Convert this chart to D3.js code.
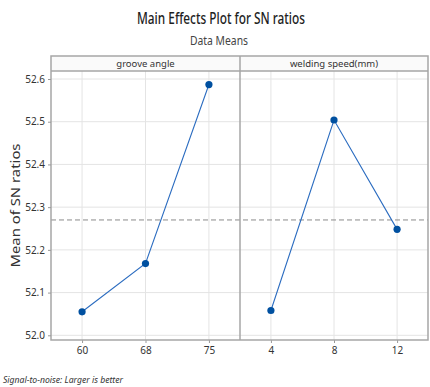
<!DOCTYPE html>
<html>
<head>
<meta charset="utf-8">
<script src="https://cdn.jsdelivr.net/npm/d3@7"></script>
<style>
  html, body { margin: 0; padding: 0; background: #fff; }
  svg { display: block; }
  text { font-family: "Noto Sans", "Open Sans", sans-serif; fill: #333; }
</style>
</head>
<body>
<svg id="chart" width="430" height="387"></svg>
<script>
// ---- data ----
const grooveLevels = ["60", "68", "75"];
const grooveMeans = [52.055, 52.168, 52.587];
const speedLevels = ["4", "8", "12"];
const speedMeans = [52.058, 52.504, 52.248];
const panelTitles = ["groove angle", "welding speed(mm)"];
const yTicks = [52.0, 52.1, 52.2, 52.3, 52.4, 52.5, 52.6];
const overallMean = 52.27;

const panels = [
  { title: panelTitles[0], levels: grooveLevels, values: grooveMeans },
  { title: panelTitles[1], levels: speedLevels, values: speedMeans }
];

const svg = d3.select("#chart");

// layout
const frameLeft = 51, frameRight = 428, stripTop = 56, stripBottom = 71, plotBottom = 340;
const divider = 240;
const panelEdges = [[frameLeft, divider], [divider, frameRight]];

const y = d3.scaleLinear().domain([52.0, 52.6]).range([335.3, 79]);

// titles
svg.append("text").attr("x", 221).attr("y", 24).attr("text-anchor", "middle")
  .style("font-size", "15.5px").style("font-weight", "500").style("fill", "#1e1e1e")
  .attr("textLength", 168).attr("lengthAdjust", "spacingAndGlyphs")
  .text("Main Effects Plot for SN ratios");
svg.append("text").attr("x", 219).attr("y", 45).attr("text-anchor", "middle")
  .style("font-size", "12px").style("fill", "#444")
  .attr("textLength", 58).attr("lengthAdjust", "spacingAndGlyphs")
  .text("Data Means");

// y axis title
svg.append("text")
  .attr("transform", "translate(20," + ((stripBottom + plotBottom) / 2) + ") rotate(-90)")
  .attr("text-anchor", "middle")
  .style("font-size", "13px").style("fill", "#333")
  .attr("textLength", 124).attr("lengthAdjust", "spacingAndGlyphs")
  .text("Mean of SN ratios");

// panels
panels.forEach((p, i) => {
  const [x0, x1] = panelEdges[i];
  const x = d3.scalePoint().domain(p.levels).range([x0, x1]).padding(0.49);
  const g = svg.append("g");

  // horizontal grid
  g.selectAll("line.hg").data(yTicks).enter().append("line")
    .attr("x1", x0).attr("x2", x1)
    .attr("y1", d => y(d)).attr("y2", d => y(d))
    .attr("stroke", "#e4e4e4").attr("stroke-width", 1);
  // vertical grid
  g.selectAll("line.vg").data(p.levels).enter().append("line")
    .attr("x1", d => x(d)).attr("x2", d => x(d))
    .attr("y1", stripBottom).attr("y2", plotBottom)
    .attr("stroke", "#e4e4e4").attr("stroke-width", 1);

  // x axis
  const xa = svg.append("g").attr("transform", "translate(0," + plotBottom + ")")
    .call(d3.axisBottom(x).tickSize(3).tickSizeOuter(0).tickPadding(4));
  xa.select(".domain").remove();
  xa.selectAll(".tick line").attr("stroke", "#999");
  xa.selectAll(".tick text").style("font-size", "10px").style("fill", "#333")
    .style("font-family", "'Noto Sans', sans-serif");

  // strip
  g.append("rect").attr("x", x0).attr("y", stripTop).attr("width", x1 - x0)
    .attr("height", stripBottom - stripTop).attr("fill", "#fafafa");
  g.append("text").attr("x", (x0 + x1) / 2).attr("y", stripTop + 11)
    .attr("text-anchor", "middle").style("font-size", "9.5px").style("fill", "#333")
    .text(p.title);
  p.panelX = x;
});

// mean reference line
svg.append("line").attr("x1", frameLeft).attr("x2", frameRight)
  .attr("y1", y(overallMean)).attr("y2", y(overallMean))
  .attr("stroke", "#8a8a8a").attr("stroke-width", 1).attr("stroke-dasharray", "5,3");

// data lines and points
panels.forEach(p => {
  const pts = p.levels.map((l, k) => [p.panelX(l), y(p.values[k])]);
  svg.append("path").attr("d", d3.line()(pts))
    .attr("fill", "none").attr("stroke", "#2b6cc0").attr("stroke-width", 1.1);
  svg.selectAll(null).data(pts).enter().append("circle")
    .attr("cx", d => d[0]).attr("cy", d => d[1]).attr("r", 3.6)
    .attr("fill", "#0050a0");
});

// frames
const frameColor = "#a6a6a6";
svg.append("rect").attr("x", frameLeft).attr("y", stripTop)
  .attr("width", frameRight - frameLeft).attr("height", plotBottom - stripTop)
  .attr("fill", "none").attr("stroke", frameColor).attr("stroke-width", 1.5);
svg.append("line").attr("x1", frameLeft).attr("x2", frameRight)
  .attr("y1", stripBottom).attr("y2", stripBottom)
  .attr("stroke", frameColor).attr("stroke-width", 1.5);
svg.append("line").attr("x1", divider).attr("x2", divider)
  .attr("y1", stripTop).attr("y2", plotBottom)
  .attr("stroke", frameColor).attr("stroke-width", 1.5);

// y axis
const ya = svg.append("g").attr("transform", "translate(" + frameLeft + ",0)")
  .call(d3.axisLeft(y).tickValues(yTicks).tickFormat(d3.format(".1f")).tickSize(3).tickPadding(3));
ya.select(".domain").remove();
ya.selectAll(".tick line").attr("stroke", "#999");
ya.selectAll(".tick text").style("font-size", "10px").style("fill", "#333")
  .style("font-family", "'Noto Sans', sans-serif");

// footnote
svg.append("text").attr("x", 3).attr("y", 383)
  .style("font-size", "9px").style("font-style", "italic").style("fill", "#333")
  .attr("textLength", 120).attr("lengthAdjust", "spacingAndGlyphs")
  .text("Signal-to-noise: Larger is better");
</script>
</body>
</html>
